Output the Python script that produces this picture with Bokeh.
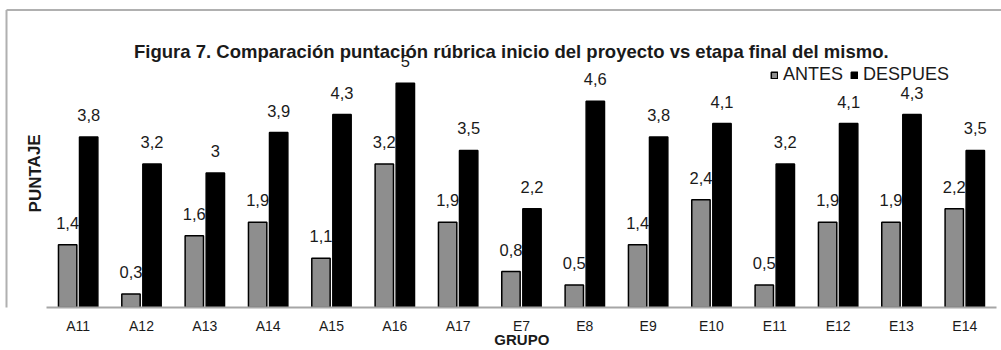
from bokeh.plotting import figure
from bokeh.models import (ColumnDataSource, Range1d, LabelSet, Label,
                          Legend, LegendItem, FixedTicker)
from bokeh.core.properties import value
from bokeh.transform import dodge
from bokeh.embed import file_html
from bokeh.resources import INLINE

groups = ["A11", "A12", "A13", "A14", "A15", "A16", "A17", "E7", "E8", "E9",
          "E10", "E11", "E12", "E13", "E14"]
antes = [1.4, 0.3, 1.6, 1.9, 1.1, 3.2, 1.9, 0.8, 0.5, 1.4, 2.4, 0.5, 1.9, 1.9, 2.2]
despues = [3.8, 3.2, 3.0, 3.9, 4.3, 5.0, 3.5, 2.2, 4.6, 3.8, 4.1, 3.2, 4.1, 4.3, 3.5]

def fmt(v):
    s = ("%.1f" % v).rstrip("0").rstrip(".")
    return s.replace(".", ",")

pos = [i + 0.5 for i in range(len(groups))]   # category slots on the x scale
src = ColumnDataSource(dict(
    g=groups, pos=pos, antes=antes, despues=despues,
    antes_lbl=[fmt(v) for v in antes], despues_lbl=[fmt(v) for v in despues],
))

# layout constants (pixels)
W, H = 1001, 350
CAT_PX = 63.33          # width of one category slot
PX_Y = 45.3             # pixels per score unit
LEFT_PX = 46            # where the first category starts
BOTTOM = 40             # height of the x-axis band

n = len(groups)
x_start = -LEFT_PX / CAT_PX
x_end = x_start + W / CAT_PX
y_end = (H - BOTTOM) / PX_Y

FONT = "Liberation Sans"
TXT = "#1a1a1a"
p = figure(width=W, height=H, x_range=Range1d(x_start, x_end), y_range=Range1d(0, y_end),
           output_backend="svg", toolbar_location=None, y_axis_location=None,
           min_border_left=0, min_border_right=0, min_border_top=0, min_border_bottom=BOTTOM)
p.outline_line_color = None
p.grid.visible = False

# outer chart border: left and top edges
bx = x_start + 6 / CAT_PX
by = y_end - 9.5 / PX_Y
p.segment(x0=[bx, bx], y0=[by, by], x1=[x_end + 1, bx], y1=[by, -2],
          line_color="#b0b0b0", line_width=2)

r1 = p.vbar(x=dodge("pos", -0.166), top="antes", width=0.29, source=src,
            fill_color="#8e8e8e", line_color="#000000", line_width=1.5)
r2 = p.vbar(x=dodge("pos", 0.166), top="despues", width=0.29, source=src,
            fill_color="#000000", line_color="#000000", line_width=1.5)

p.add_layout(LabelSet(x=dodge("pos", -0.166), y="antes", text="antes_lbl",
                      source=src, y_offset=16, text_align="center", text_baseline="alphabetic",
                      text_font=value(FONT), text_font_size=value("16.5px"), text_color=TXT))
p.add_layout(LabelSet(x=dodge("pos", 0.166), y="despues", text="despues_lbl",
                      source=src, y_offset=16, text_align="center", text_baseline="alphabetic",
                      text_font=value(FONT), text_font_size=value("16.5px"), text_color=TXT))

ax = p.xaxis[0]
ax.ticker = FixedTicker(ticks=pos, minor_ticks=[])
ax.major_label_overrides = {t: g for t, g in zip(pos, groups)}
ax.bounds = (0, n)
ax.axis_line_color = "#a6a6a6"
ax.axis_line_width = 2
ax.major_tick_line_color = None
ax.minor_tick_line_color = None
ax.major_tick_out = 0
ax.major_tick_in = 0
ax.minor_tick_out = 0
ax.minor_tick_in = 0
ax.major_label_text_font = FONT
ax.major_label_text_font_size = "14px"
ax.major_label_text_color = TXT
ax.major_label_text_line_height = 0.8
ax.major_label_standoff = 10
# label is centred on the whole canvas width; leading no-break spaces move it
# over the centre of the category span, as in the original
ax.axis_label = "\u00a0" * 10 + "GRUPO"
ax.axis_label_text_font = FONT
ax.axis_label_text_font_style = "bold"
ax.axis_label_text_font_size = "15px"
ax.axis_label_text_color = TXT
ax.axis_label_text_line_height = 0.8
ax.axis_label_standoff = -6

p.add_layout(Label(x=(34.5 - LEFT_PX) / CAT_PX, y=2.99, text="PUNTAJE", angle=1.5708,
                   text_align="center", text_baseline="middle", text_font=FONT,
                   text_font_style="bold", text_font_size="17px", text_color=TXT))

p.add_layout(Label(x=7.34, y=5.7,
                   text="Figura 7. Comparación puntación rúbrica inicio del proyecto vs etapa final del mismo.",
                   text_align="center", text_baseline="alphabetic", text_font=FONT,
                   text_font_style="bold", text_font_size="18.5px", text_color=TXT))

legend = Legend(items=[LegendItem(label="ANTES", renderers=[r1]),
                       LegendItem(label="DESPUES", renderers=[r2])],
                orientation="horizontal", location=(770, 222),
                glyph_width=8, glyph_height=8, label_standoff=5, spacing=7, padding=0,
                margin=0, border_line_color=None, background_fill_alpha=0,
                label_text_font=FONT, label_text_font_size="18px", label_text_color=TXT)
p.add_layout(legend)

open("out.html", "w").write(file_html(p, INLINE))
